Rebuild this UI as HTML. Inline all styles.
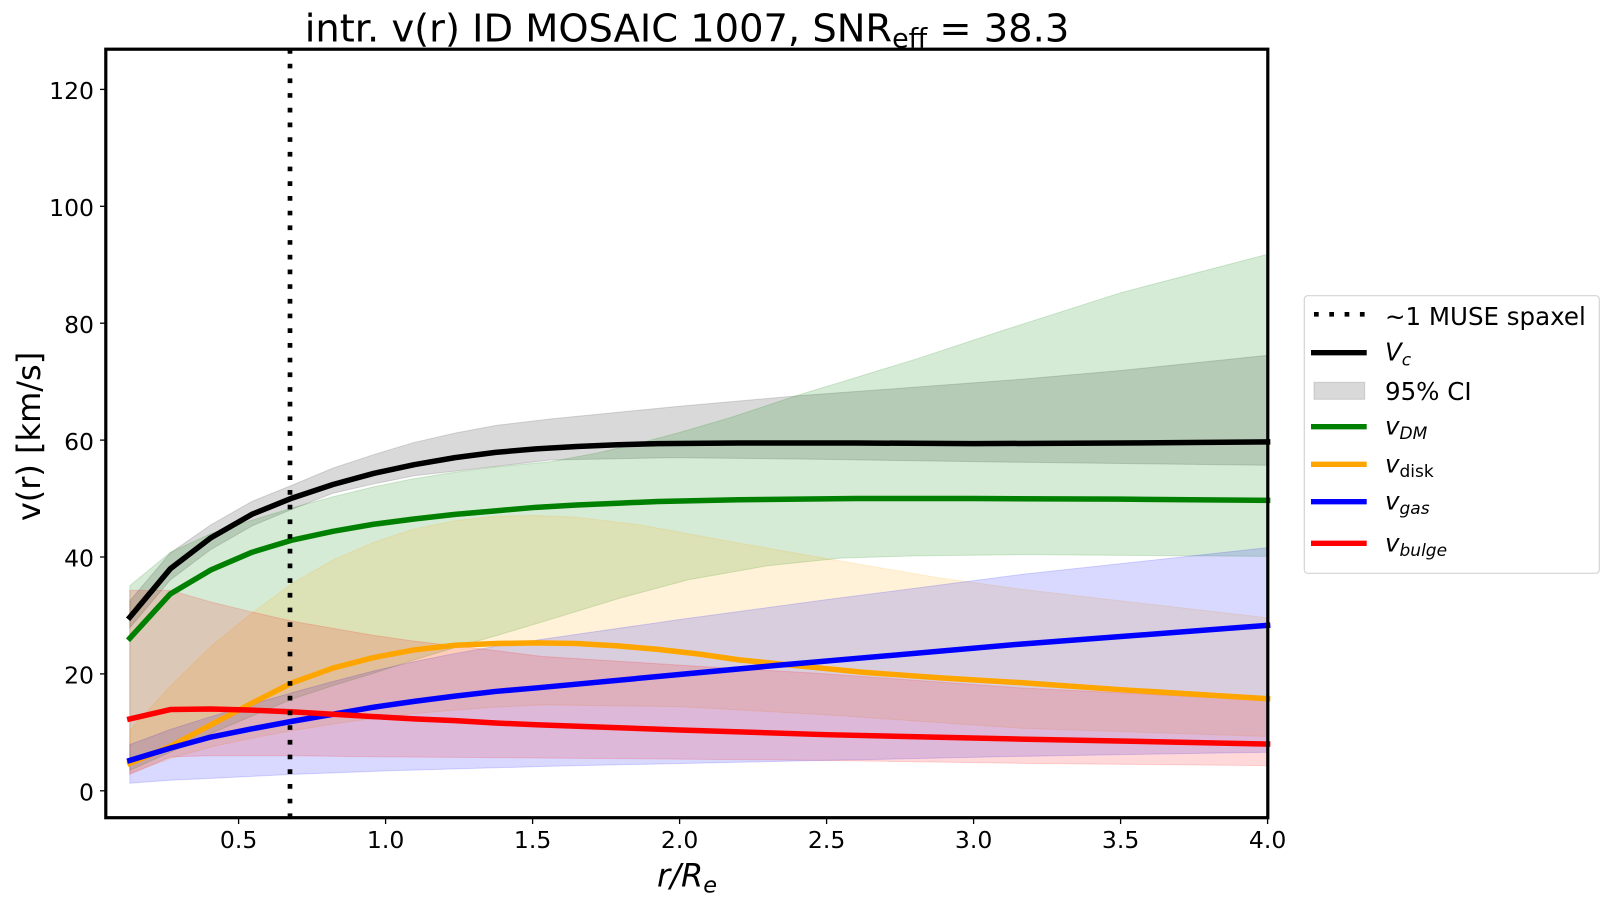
<!DOCTYPE html>
<html>
<head>
<meta charset="utf-8">
<style>
  html, body { margin: 0; padding: 0; background: #ffffff; }
  svg { display: block; }
  text { font-family: "DejaVu Sans", "Liberation Sans", sans-serif; fill: #000; }
</style>
</head>
<body>
<svg width="1609" height="903" viewBox="0 0 1609 903" xmlns="http://www.w3.org/2000/svg">
  <rect x="0" y="0" width="1609" height="903" fill="#ffffff"/>

  <g transform="translate(91.6,790.8) scale(294,-5.845)">
    <path d="M0.13,32.5 L0.268,40.7 L0.406,45.5 L0.545,49.5 L0.683,52.3 L0.821,55.2 L0.959,57.5 L1.097,59.6 L1.236,61.2 L1.374,62.5 L1.56,63.6 L2.0,65.8 L2.41,67.6 L3.16,70.4 L3.5,71.9 L4.0,74.5 L4.0,55.7 L3.16,56.2 L2.5,56.7 L1.98,57.0 L1.56,56.6 L1.374,55.5 L1.236,54.7 L1.097,53.9 L0.959,52.5 L0.821,50.9 L0.683,48.2 L0.545,45.3 L0.406,41.3 L0.268,36.1 L0.13,27.9 Z"
      fill="#808080" fill-opacity="0.3" stroke="#808080" stroke-opacity="0.3" stroke-width="1" vector-effect="non-scaling-stroke"/>
    <path d="M0.13,35.1 L0.268,40.8 L0.406,44.0 L0.545,46.3 L0.683,48.4 L0.821,50.3 L0.959,52.0 L1.097,53.4 L1.236,54.5 L1.374,55.4 L1.56,56.3 L1.72,57.8 L1.865,59.5 L2.0,61.3 L2.17,63.8 L2.41,67.8 L2.58,70.4 L2.8,73.8 L3.09,78.6 L3.5,85.2 L4.0,91.8 L4.0,40.1 L3.16,40.4 L2.8,40.2 L2.55,39.8 L2.3,38.5 L2.03,36.1 L1.8,33.0 L1.56,29.3 L1.374,26.5 L1.236,24.5 L1.097,22.4 L0.959,20.1 L0.821,18.0 L0.683,15.7 L0.545,12.8 L0.406,9.8 L0.268,6.6 L0.13,3.5 Z"
      fill="#008000" fill-opacity="0.16" stroke="#008000" stroke-opacity="0.16" stroke-width="1" vector-effect="non-scaling-stroke"/>
    <path d="M0.13,10.4 L0.268,17.9 L0.406,24.7 L0.545,30.4 L0.683,35.5 L0.821,39.5 L0.959,42.5 L1.097,44.8 L1.236,46.2 L1.374,47.0 L1.512,47.1 L1.65,46.8 L1.865,45.5 L2.2,42.4 L2.55,39.3 L2.886,36.4 L3.16,34.5 L3.5,32.5 L4.0,29.6 L4.0,9.3 L3.16,10.7 L2.5,13.0 L2.0,14.4 L1.53,14.7 L1.374,14.3 L1.236,13.8 L1.097,13.2 L0.959,12.4 L0.821,11.4 L0.683,10.3 L0.545,9.0 L0.406,7.5 L0.268,5.5 L0.13,3.0 Z"
      fill="#FFA500" fill-opacity="0.15" stroke="#FFA500" stroke-opacity="0.15" stroke-width="1" vector-effect="non-scaling-stroke"/>
    <path d="M0.13,7.9 L0.268,10.5 L0.406,12.7 L0.545,14.8 L0.683,16.8 L0.821,18.7 L0.959,20.5 L1.097,22.1 L1.236,23.5 L1.374,24.7 L1.53,25.9 L2.0,29.3 L2.5,32.7 L3.16,37.0 L4.0,41.6 L4.0,6.6 L3.16,5.9 L2.5,5.2 L1.56,4.2 L1.0,3.4 L0.683,2.8 L0.268,1.8 L0.13,1.3 Z"
      fill="#0000FF" fill-opacity="0.15" stroke="#0000FF" stroke-opacity="0.15" stroke-width="1" vector-effect="non-scaling-stroke"/>
    <path d="M0.13,34.3 L0.268,34.3 L0.406,32.3 L0.545,30.6 L0.683,29.0 L0.821,27.8 L0.959,26.6 L1.097,25.6 L1.236,24.8 L1.374,24.0 L1.53,23.0 L2.0,21.5 L2.5,20.0 L3.16,17.6 L4.0,15.5 L4.0,4.3 L3.16,4.7 L2.5,5.2 L1.56,5.6 L1.0,5.8 L0.683,6.0 L0.406,6.0 L0.268,5.8 L0.13,2.8 Z"
      fill="#FF0000" fill-opacity="0.15" stroke="#FF0000" stroke-opacity="0.15" stroke-width="1" vector-effect="non-scaling-stroke"/>

    <g fill="none" stroke-width="5.5" stroke-linejoin="round" stroke-linecap="square">
      <path vector-effect="non-scaling-stroke" stroke="#000000" d="M0.13,29.7 L0.268,38.0 L0.406,43.3 L0.545,47.3 L0.683,50.1 L0.821,52.4 L0.959,54.3 L1.097,55.8 L1.236,57.0 L1.374,57.9 L1.512,58.5 L1.65,58.9 L1.789,59.2 L1.927,59.4 L2.2,59.5 L2.6,59.5 L3.0,59.4 L3.5,59.5 L4.0,59.7"/>
      <path vector-effect="non-scaling-stroke" stroke="#008000" d="M0.13,26.1 L0.268,33.7 L0.406,37.8 L0.545,40.8 L0.683,42.9 L0.821,44.4 L0.959,45.6 L1.097,46.5 L1.236,47.3 L1.374,47.9 L1.512,48.5 L1.65,48.9 L1.789,49.2 L1.927,49.5 L2.2,49.8 L2.6,50.0 L3.0,50.0 L3.5,49.9 L4.0,49.7"/>
      <path vector-effect="non-scaling-stroke" stroke="#FFA500" d="M0.13,4.7 L0.268,7.6 L0.406,11.3 L0.545,15.0 L0.683,18.5 L0.821,21.0 L0.959,22.8 L1.097,24.1 L1.236,24.9 L1.374,25.2 L1.512,25.3 L1.65,25.2 L1.789,24.8 L1.927,24.2 L2.065,23.4 L2.203,22.4 L2.341,21.7 L2.48,21.0 L2.618,20.3 L2.756,19.8 L2.894,19.3 L3.16,18.5 L3.5,17.3 L4.0,15.75"/>
      <path vector-effect="non-scaling-stroke" stroke="#0000FF" d="M0.13,5.2 L0.268,7.3 L0.406,9.2 L0.545,10.6 L0.683,11.9 L0.821,13.1 L0.959,14.3 L1.097,15.3 L1.236,16.2 L1.374,17.0 L1.512,17.6 L2.34,21.5 L3.16,25.1 L4.0,28.3"/>
      <path vector-effect="non-scaling-stroke" stroke="#FF0000" d="M0.13,12.3 L0.268,13.9 L0.406,14.0 L0.545,13.8 L0.683,13.5 L0.821,13.1 L0.959,12.7 L1.097,12.3 L1.236,12.0 L1.374,11.6 L1.512,11.3 L2.0,10.4 L2.5,9.6 L3.16,8.85 L4.0,8.0"/>
    </g>
  </g>

  <path d="M290,49 V818" stroke="#000" stroke-width="4.7" stroke-dasharray="4.7 10" fill="none"/>

  <rect x="105.8" y="49.2" width="1162" height="768.5" fill="none" stroke="#000" stroke-width="3.2"/>

  <g stroke="#000" stroke-width="1.3">
    <line x1="100" y1="790.8" x2="105" y2="790.8"/>
    <line x1="100" y1="673.9" x2="105" y2="673.9"/>
    <line x1="100" y1="557.0" x2="105" y2="557.0"/>
    <line x1="100" y1="440.1" x2="105" y2="440.1"/>
    <line x1="100" y1="323.2" x2="105" y2="323.2"/>
    <line x1="100" y1="206.3" x2="105" y2="206.3"/>
    <line x1="100" y1="89.4" x2="105" y2="89.4"/>
  </g>
  <g font-size="23.5" text-anchor="end">
    <text x="94" y="800.5">0</text>
    <text x="94" y="683.6">20</text>
    <text x="94" y="566.7">40</text>
    <text x="94" y="449.8">60</text>
    <text x="94" y="332.9">80</text>
    <text x="94" y="216.0">100</text>
    <text x="94" y="99.1">120</text>
  </g>

  <g stroke="#000" stroke-width="1.3">
    <line x1="238.6" y1="819" x2="238.6" y2="824"/>
    <line x1="385.6" y1="819" x2="385.6" y2="824"/>
    <line x1="532.6" y1="819" x2="532.6" y2="824"/>
    <line x1="679.6" y1="819" x2="679.6" y2="824"/>
    <line x1="826.6" y1="819" x2="826.6" y2="824"/>
    <line x1="973.6" y1="819" x2="973.6" y2="824"/>
    <line x1="1120.6" y1="819" x2="1120.6" y2="824"/>
    <line x1="1267.6" y1="819" x2="1267.6" y2="824"/>
  </g>
  <g font-size="23.5" text-anchor="middle">
    <text x="238.6" y="848">0.5</text>
    <text x="385.6" y="848">1.0</text>
    <text x="532.6" y="848">1.5</text>
    <text x="679.6" y="848">2.0</text>
    <text x="826.6" y="848">2.5</text>
    <text x="973.6" y="848">3.0</text>
    <text x="1120.6" y="848">3.5</text>
    <text x="1267.6" y="848">4.0</text>
  </g>

  <text x="687" y="886.7" font-size="32" font-style="italic" text-anchor="middle">r/R<tspan font-size="22.4" dy="6">e</tspan></text>
  <text transform="translate(40,436.5) rotate(-90)" font-size="32" text-anchor="middle">v(r) [km/s]</text>

  <text x="687" y="41.7" font-size="38.4" text-anchor="middle">intr. v(r) ID MOSAIC 1007, SNR<tspan font-size="26.9" dy="6">eff</tspan><tspan dy="-6"> = 38.3</tspan></text>

  <rect x="1304.3" y="295.7" width="295" height="277.6" rx="3.5" ry="3.5" fill="#ffffff" stroke="#d4d4d4" stroke-width="1.2"/>
  <path d="M1314,314.3 H1366" stroke="#000" stroke-width="4.7" stroke-dasharray="4.7 10.6" fill="none"/>
  <line x1="1311" y1="352.7" x2="1366.7" y2="352.7" stroke="#000" stroke-width="5.3"/>
  <rect x="1314" y="382.3" width="50.7" height="17" fill="#808080" fill-opacity="0.3" stroke="#808080" stroke-opacity="0.3" stroke-width="1"/>
  <line x1="1311" y1="426.7" x2="1366.7" y2="426.7" stroke="#008000" stroke-width="5.3"/>
  <line x1="1311" y1="464.3" x2="1366.7" y2="464.3" stroke="#FFA500" stroke-width="5.3"/>
  <line x1="1311" y1="501.7" x2="1366.7" y2="501.7" stroke="#0000FF" stroke-width="5.3"/>
  <line x1="1311" y1="543.3" x2="1366.7" y2="543.3" stroke="#FF0000" stroke-width="5.3"/>

  <g font-size="24.5">
    <text x="1385" y="325">~1 MUSE spaxel</text>
    <text x="1385" y="360.5" font-style="italic">V<tspan font-size="17" dy="5">c</tspan></text>
    <text x="1385" y="400">95% CI</text>
    <text x="1385" y="434.7" font-style="italic">v<tspan font-size="17" dy="4.5">DM</tspan></text>
    <text x="1385" y="472.3"><tspan font-style="italic">v</tspan><tspan font-size="17" dy="4.5">disk</tspan></text>
    <text x="1385" y="509.7" font-style="italic">v<tspan font-size="17" dy="4.5">gas</tspan></text>
    <text x="1385" y="551.3" font-style="italic">v<tspan font-size="17" dy="4.5">bulge</tspan></text>
  </g>
</svg>
</body>
</html>
